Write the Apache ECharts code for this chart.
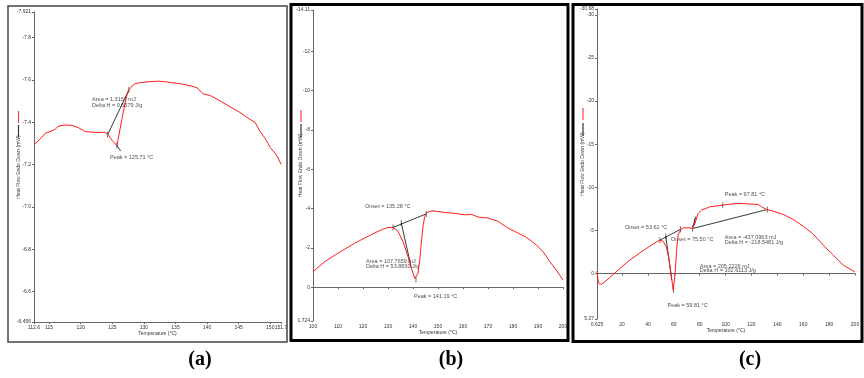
<!DOCTYPE html>
<html><head><meta charset="utf-8">
<script src="https://cdn.jsdelivr.net/npm/echarts@6/dist/echarts.min.js"></script>
<style>html,body{margin:0;padding:0;background:#fff}#c{width:864px;height:378px}</style>
</head><body><div id="c"></div>
<script>
// ---------- Panel (a) ----------
const aTemp = [112.6,113.55,114.34,115.13,115.92,116.4,117.03,117.5,118.6,119.6,119.9,120.7,122.3,123.84,124.3,125.1,125.74,126.5,127.2,127.5,128.0,128.6,129.4,131.0,132.2,133.3,134.4,135.7,137.3,138.4,139.35,140.5,142.0,143.6,145.2,146.8,147.6,148.4,149.2,150.0,150.75,151.2,151.7];
const aHeat = [-7.295,-7.319,-7.347,-7.356,-7.366,-7.380,-7.385,-7.387,-7.385,-7.375,-7.366,-7.356,-7.352,-7.352,-7.342,-7.309,-7.290,-7.413,-7.516,-7.545,-7.568,-7.582,-7.587,-7.592,-7.594,-7.592,-7.587,-7.582,-7.573,-7.563,-7.535,-7.526,-7.502,-7.474,-7.446,-7.413,-7.399,-7.356,-7.323,-7.281,-7.253,-7.234,-7.201];
const aXTicks = [112.6,115,120,125,130,135,140,145,150,151.7];
const aXLabels = ['112.6','115','120','125','130','135','140','145','150','151.7'];
const aYTicks = [-7.921,-7.8,-7.6,-7.4,-7.2,-7.0,-6.8,-6.6,-6.456];
const aYLabels = ['-7.921','-7.8','-7.6','-7.4','-7.2','-7.0','-6.8','-6.6','-6.456'];
const aLines = [[[124.27,-7.342],[127.6,-7.552]],[[125.69,-7.292],[126.32,-7.264]]];
const aTicks = [[124.27,-7.342],[125.72,-7.29],[127.6,-7.552]];
const aNotes = [[121.8,-7.507,'Area = 1.3157 mJ'],[121.8,-7.479,'Delta H = 0.6579 J/g'],[124.63,-7.234,'Peak = 125.71 °C']];

// ---------- Panel (b) ----------
const bTemp = [100,104.7,110,116.7,123.3,127.3,130,132,134,136,138,139.6,140.7,141.1,142,142.7,143.3,144,144.7,145.3,146.7,148,150,154,156.7,160.7,163.3,166,170,174,178,182,184.7,186.7,189.3,192,194.7,197.3,200];
const bHeat = [-0.785,-1.30,-1.73,-2.24,-2.67,-2.92,-3.04,-3.04,-2.84,-2.32,-1.55,-0.87,-0.44,-0.39,-0.70,-1.38,-2.24,-3.09,-3.60,-3.78,-3.86,-3.88,-3.85,-3.78,-3.76,-3.68,-3.71,-3.57,-3.52,-3.35,-3.01,-2.75,-2.58,-2.41,-2.15,-1.81,-1.30,-0.87,-0.36];
const bXTicks = [100,110,120,130,140,150,160,170,180,190,200];
const bXLabels = ['100','110','120','130','140','150','160','170','180','190','200'];
const bYTicks = [-14.11,-12,-10,-8,-6,-4,-2,0,1.724];
const bYLabels = ['-14.11','-12','-10','-8','-6','-4','-2','0','1.724'];
const bLines = [[[132.0,-3.04],[145.3,-3.73]],[[135.3,-3.27],[139.3,-1.0]]];
const bTicks = [[132.0,-3.04],[135.3,-3.27],[145.3,-3.73],[141.19,-0.39]];
const bNotes = [[120.8,-4.12,'Onset = 135.28 °C'],[121.2,-1.32,'Area = 107.7659 mJ'],[121.2,-1.04,'Delta H = 53.8830 J/g'],[140.4,0.50,'Peak = 141.19 °C']];

// ---------- Panel (c) ----------
const cTemp = [0.625,0.97,1.45,2.2,4.1,6.6,10.5,18.2,26.0,33.7,41.4,46.6,49.2,51.7,54.3,56.4,58.2,59.5,59.9,61.0,62.1,63.3,65.2,67.2,72.4,74.5,76.2,78.8,81.4,87.8,97.6,103.3,111.0,120.1,125.2,127.8,131.7,136.8,144.6,152.3,160.0,167.8,175.5,183.3,191.0,200];
const cHeat = [-0.3,-0.08,0.78,1.16,1.24,0.97,0.46,-0.58,-1.55,-2.40,-3.17,-3.67,-3.87,-3.75,-3.09,-1.55,0.39,1.94,1.94,0,-2.7,-4.45,-5.1,-5.3,-5.3,-5.23,-5.8,-6.97,-7.35,-7.74,-7.93,-8.05,-8.13,-8.05,-8.01,-7.74,-7.43,-7.24,-6.85,-6.27,-5.49,-4.56,-3.29,-2.13,-0.97,-0.19];
const cXTicks = [0.625,20,40,60,80,100,120,140,160,180,200];
const cXLabels = ['0.625','20','40','60','80','100','120','140','160','180','200'];
const cYTicks = [-30.68,-30,-25,-20,-15,-10,-5,0,5.27];
const cYLabels = ['-30.68','-30','-25','-20','-15','-10','-5','0','5.27'];
const cLines = [[[49.2,-3.87],[65.2,-5.14]],[[53.8,-4.33],[58.4,0.78]],[[74.5,-5.22],[132.2,-7.43]],[[74.8,-5.5],[77.0,-6.6]]];
const cTicks = [[49.2,-3.87],[53.8,-4.33],[65.2,-5.14],[74.5,-5.22],[76.0,-6.0],[132.2,-7.43],[59.81,1.9],[97.81,-7.93]];
const cNotes = [[22.2,-5.30,'Onset = 53.62 °C'],[57.8,-3.98,'Onset = 75.50 °C'],[99.4,-9.21,'Peak = 97.81 °C'],[99.4,-4.18,'Area = -437.0963 mJ'],[99.4,-3.60,'Delta H = -218.5481 J/g'],[80.1,-0.85,'Area = 205.2226 mJ'],[80.1,-0.30,'Delta H = 102.6113 J/g'],[55.1,3.76,'Peak = 59.81 °C']];

const FONT = 'Liberation Sans';
const zip = (xs, ys) => xs.map((x, i) => [x, ys[i]]);
const fmt = (ticks, labels) => v => { for (let i = 0; i < ticks.length; i++) if (Math.abs(ticks[i] - v) < 1e-6) return labels[i]; return ''; };

const grids = [
  {left: 34, top: 12, width: 247, height: 310},
  {left: 313, top: 10, width: 250, height: 311},
  {left: 597, top: 9, width: 258, height: 310}
];
const nameGaps = [13, 10, 12];
const panels = [
  {t: aTemp, h: aHeat, xt: aXTicks, xl: aXLabels, yt: aYTicks, yl: aYLabels, lines: aLines, ticks: aTicks, notes: aNotes},
  {t: bTemp, h: bHeat, xt: bXTicks, xl: bXLabels, yt: bYTicks, yl: bYLabels, lines: bLines, ticks: bTicks, notes: bNotes},
  {t: cTemp, h: cHeat, xt: cXTicks, xl: cXLabels, yt: cYTicks, yl: cYLabels, lines: cLines, ticks: cTicks, notes: cNotes}
];
const axisCommon = {
  axisLine: {lineStyle: {color: '#666', width: 1}},
  splitLine: {show: false},
  nameMoveOverlap: false,
  nameTextStyle: {fontFamily: FONT, fontSize: 5, color: '#333'}
};
const xAxis = [], yAxis = [], series = [];
panels.forEach((p, i) => {
  xAxis.push(Object.assign({}, axisCommon, {
    type: 'value', gridIndex: i, min: p.xt[0], max: p.xt[p.xt.length - 1],
    name: 'Temperature (°C)', nameLocation: 'middle', nameGap: 9,
    axisTick: {customValues: p.xt, length: 2, lineStyle: {color: '#666'}},
    axisLabel: {customValues: p.xt, formatter: fmt(p.xt, p.xl), fontFamily: FONT, fontSize: 5, color: '#333', margin: 3}
  }));
  yAxis.push(Object.assign({}, axisCommon, {
    type: 'value', gridIndex: i, inverse: true, min: p.yt[0], max: p.yt[p.yt.length - 1],
    name: 'Heat Flow Endo Down (mW)', nameLocation: 'middle', nameGap: nameGaps[i], nameRotate: 90,
    axisTick: {customValues: p.yt, length: 2, lineStyle: {color: '#666'}},
    axisLabel: {customValues: p.yt, formatter: fmt(p.yt, p.yl), fontFamily: FONT, fontSize: 5, color: '#333', margin: 3}
  }));
  series.push({
    type: 'line', xAxisIndex: i, yAxisIndex: i, data: zip(p.t, p.h), showSymbol: false, smooth: false,
    lineStyle: {color: '#ff1a1a', width: 1}, animation: false, silent: true
  });
  series.push({
    type: 'lines', coordinateSystem: 'cartesian2d', xAxisIndex: i, yAxisIndex: i,
    data: p.lines.map(c => ({coords: c})), lineStyle: {color: '#222', width: 0.9, opacity: 1}, animation: false, silent: true
  });
  series.push({
    type: 'scatter', xAxisIndex: i, yAxisIndex: i, data: p.ticks, symbol: 'rect', symbolSize: [0.8, 6],
    itemStyle: {color: '#222'}, animation: false, silent: true
  });
  series.push({
    type: 'scatter', xAxisIndex: i, yAxisIndex: i, symbolSize: 0, animation: false, silent: true,
    data: p.notes.map(n => ({value: [n[0], n[1]], name: n[2]})),
    label: {show: true, position: [0, 0], align: 'left', verticalAlign: 'middle', formatter: '{b}',
      fontFamily: FONT, fontSize: 5.5, color: '#222'}
  });
});

const legendMarks = [[18.5, 111, 123, 125, 137], [301, 110, 122, 124, 137], [583, 108, 120, 123, 135]];
const graphic = [
  {type: 'rect', shape: {x: 8, y: 6, width: 279, height: 336}, style: {fill: null, stroke: '#444', lineWidth: 1.5}},
  {type: 'rect', shape: {x: 291, y: 4.5, width: 277, height: 336}, style: {fill: null, stroke: '#000', lineWidth: 3}},
  {type: 'rect', shape: {x: 573, y: 4.5, width: 289, height: 337}, style: {fill: null, stroke: '#000', lineWidth: 3}},
  {type: 'text', x: 200, y: 360, style: {text: '(a)', font: 'bold 20px "Liberation Serif"', fill: '#000', align: 'center', verticalAlign: 'middle'}},
  {type: 'text', x: 451, y: 360, style: {text: '(b)', font: 'bold 20px "Liberation Serif"', fill: '#000', align: 'center', verticalAlign: 'middle'}},
  {type: 'text', x: 750, y: 360, style: {text: '(c)', font: 'bold 20px "Liberation Serif"', fill: '#000', align: 'center', verticalAlign: 'middle'}}
];
legendMarks.forEach(m => {
  graphic.push({type: 'line', shape: {x1: m[0], y1: m[1], x2: m[0], y2: m[2]}, style: {stroke: '#ff4040', lineWidth: 1.2}});
  graphic.push({type: 'line', shape: {x1: m[0], y1: m[3], x2: m[0], y2: m[4]}, style: {stroke: '#333', lineWidth: 1.2}});
});

const chart = echarts.init(document.getElementById('c'), null, {renderer: 'canvas'});
chart.setOption({animation: false, grid: grids, xAxis, yAxis, series, graphic});
</script></body></html>
